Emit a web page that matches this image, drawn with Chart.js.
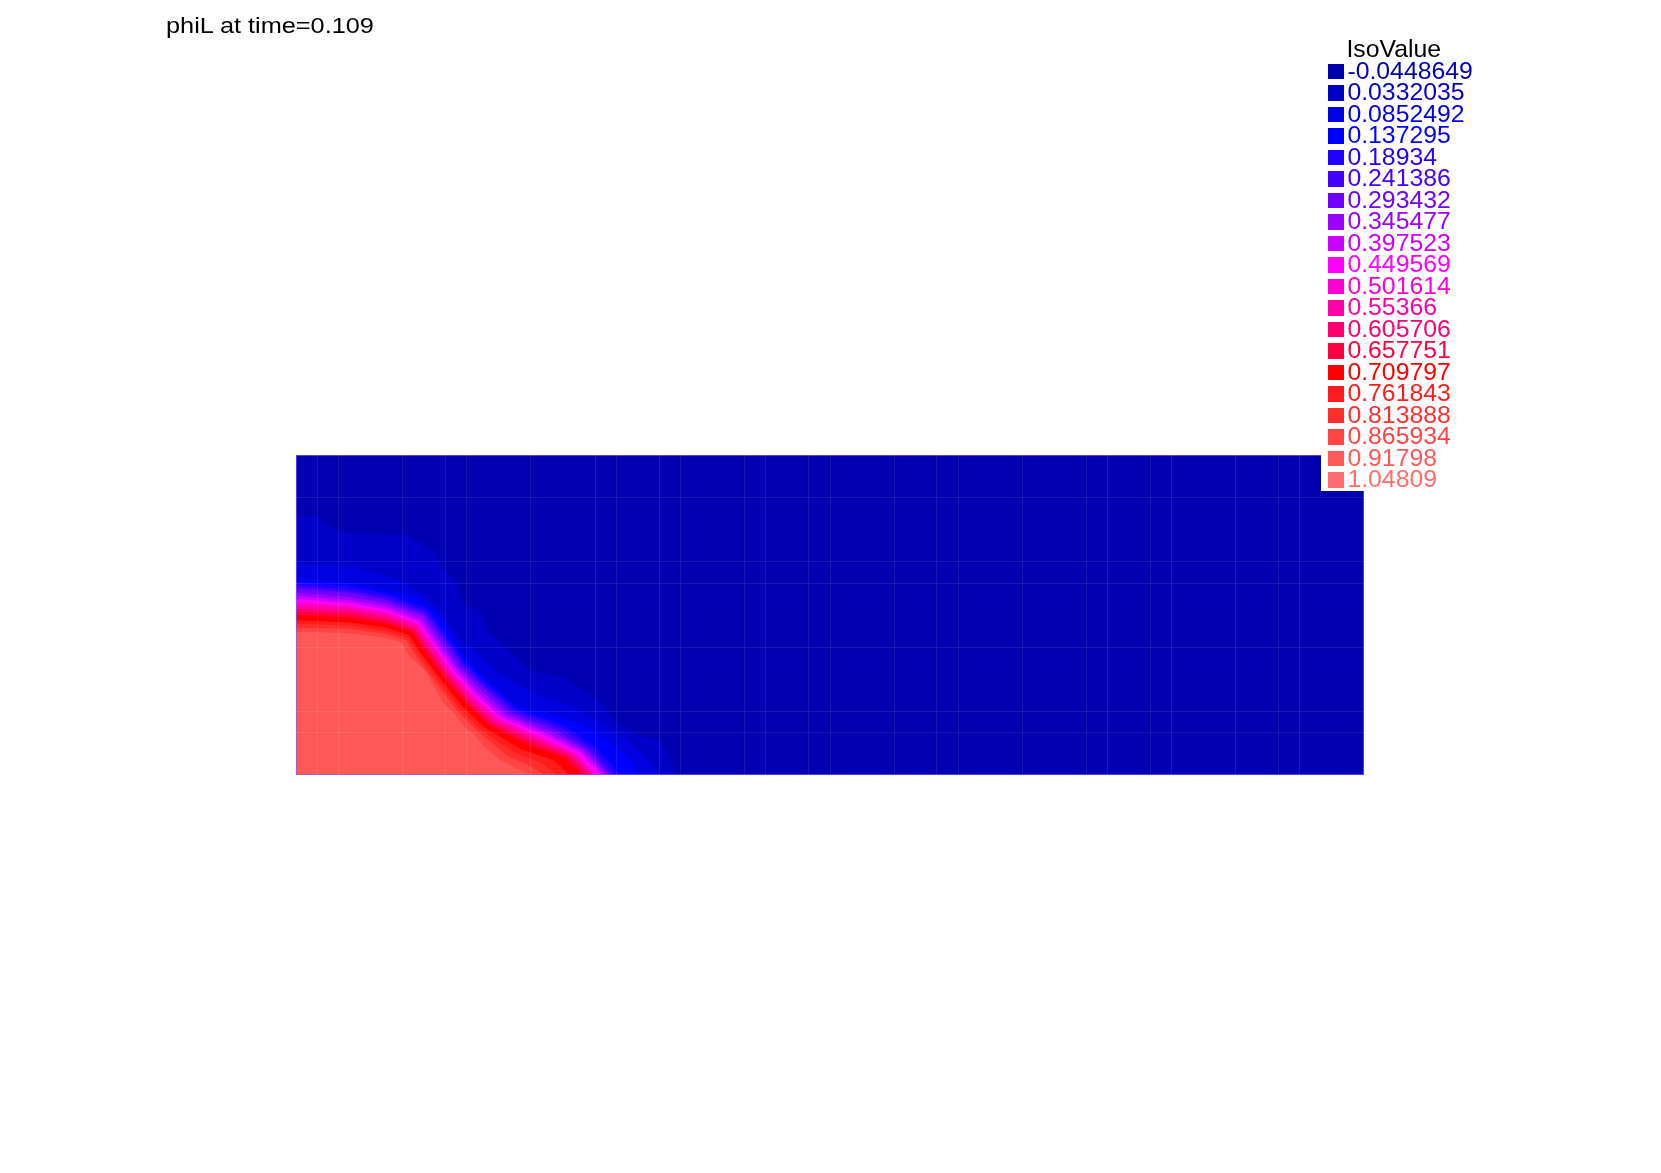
<!DOCTYPE html>
<html>
<head>
<meta charset="utf-8">
<script src="https://cdn.jsdelivr.net/npm/chart.js@4.4.0/dist/chart.umd.min.js"></script>
<style>
  body { margin: 0; background: #fff; font-family: "Liberation Sans", Arial, sans-serif; }
  #wrap { position: relative; width: 1661px; height: 1173px; }
  #title { position: absolute; left: 166px; top: 15px; font-size: 22px; line-height: 1; color: #000;
           transform: scaleX(1.15); transform-origin: left top; white-space: nowrap; }
  #iso { position: absolute; left: 1321px; top: 38.4px; background: #fff; padding: 0 14px 1.5px 7px; }
  #iso .row { position: relative; height: 21.49px; font-size: 24.8px; line-height: 21.49px; white-space: nowrap; }
  #iso .sw { position: absolute; left: 0; top: 4.1px; width: 15.5px; height: 15.5px; }
  #iso .tx { padding-left: 19.4px; }
  #iso .head { padding-left: 18.4px; color: #000; }
</style>
</head>
<body>
<div id="wrap">
  <canvas id="plot" width="1661" height="1173"></canvas>
  <div id="title">phiL at time=0.109</div>
  <div id="iso"></div>
</div>
<script>
var isoValues = ['-0.0448649', '0.0332035', '0.0852492', '0.137295', '0.18934', '0.241386', '0.293432',
  '0.345477', '0.397523', '0.449569', '0.501614', '0.55366', '0.605706', '0.657751', '0.709797',
  '0.761843', '0.813888', '0.865934', '0.91798', '1.04809'];
var isoColors = ['#0000b0', '#0000c8', '#0000e0', '#0000ff', '#2200ff', '#4600ff', '#7000ff',
  '#9c00ff', '#cc00ff', '#ff00ff', '#ff00d4', '#ff00a8', '#ff0070', '#ff0040', '#ff0000',
  '#ff1c1c', '#ff2e2e', '#ff4444', '#ff5858', '#ff6c6c'];

// mesh lines seen through the colours
var meshX = [0.2, 0.4, 1.0, 1.4, 1.6, 2.2, 2.8, 3.0, 3.4, 3.6, 4.2, 4.4, 4.8, 5.0, 5.6, 6.0, 6.2,
  6.8, 7.4, 7.6, 8.0, 8.2, 8.8, 9.2, 9.4];
var meshY = [0.4, 0.6, 1.2, 1.8, 2.0, 2.6];

// outer edge of each iso band, [x, y], domain 10 x 3
var boundary2 = [[0,2.43],[0.2,2.42],[0.33,2.31],[0.48,2.27],[0.82,2.25],[1.04,2.25],[1.16,2.17],[1.30,2.09],
  [1.38,1.92],[1.47,1.86],[1.58,1.58],[1.72,1.55],[1.80,1.36],[1.97,1.19],[2.19,0.98],[2.51,0.91],
  [2.87,0.67],[3.01,0.48],[3.19,0.38],[3.38,0.34],[3.47,0.23],[3.56,0]];
var boundary3 = [[0,1.98],[0.48,1.95],[0.79,1.89],[1.0,1.80],[1.23,1.67],[1.38,1.52],[1.51,1.30],[1.69,1.14],
  [1.91,0.95],[2.22,0.77],[2.60,0.64],[2.85,0.49],[3.10,0.33],[3.30,0.14],[3.38,0]];
var boundary4 = [[0,1.85],[0.5,1.80],[0.85,1.73],[1.13,1.67],[1.32,1.52],[1.48,1.27],[1.60,1.08],[1.79,0.89],
  [2.04,0.67],[2.35,0.58],[2.66,0.49],[2.91,0.33],[3.13,0.14],[3.22,0]];
var boundary5 = [[0,1.81],[0.5,1.77],[0.85,1.70],[1.23,1.56],[1.40,1.33],[1.58,1.06],[1.82,0.83],[2.07,0.62],[2.52,0.46],[2.81,0.26],[3.04,0]];
var boundary6 = [[0,1.78],[0.5,1.73],[0.85,1.67],[1.22,1.53],[1.38,1.31],[1.56,1.05],[1.80,0.81],[2.04,0.61],[2.48,0.44],[2.77,0.25],[2.99,0]];
var boundary7 = [[0,1.75],[0.5,1.71],[0.85,1.64],[1.20,1.51],[1.36,1.30],[1.54,1.03],[1.78,0.80],[2.01,0.59],[2.44,0.42],[2.74,0.24],[2.95,0]];
var boundary8 = [[0,1.71],[0.5,1.67],[0.85,1.61],[1.19,1.49],[1.33,1.28],[1.52,1.01],[1.75,0.78],[1.98,0.57],[2.41,0.40],[2.71,0.23],[2.92,0]];
var boundary9 = [[0,1.68],[0.5,1.64],[0.85,1.58],[1.17,1.46],[1.31,1.26],[1.50,1.00],[1.72,0.76],[1.95,0.56],[2.38,0.38],[2.69,0.22],[2.89,0]];
var boundary10 = [[0,1.65],[0.5,1.61],[0.85,1.55],[1.15,1.44],[1.29,1.24],[1.48,0.98],[1.70,0.74],[1.92,0.54],[2.34,0.37],[2.66,0.21],[2.86,0]];
var boundary11 = [[0,1.62],[0.5,1.59],[0.85,1.53],[1.14,1.42],[1.28,1.23],[1.46,0.97],[1.68,0.73],[1.90,0.53],[2.31,0.35],[2.63,0.20],[2.82,0]];
var boundary12 = [[0,1.60],[0.5,1.57],[0.85,1.51],[1.13,1.41],[1.26,1.22],[1.45,0.96],[1.66,0.72],[1.88,0.52],[2.29,0.34],[2.60,0.20],[2.79,0]];
var boundary13 = [[0,1.56],[0.5,1.54],[0.85,1.48],[1.12,1.38],[1.24,1.20],[1.43,0.94],[1.64,0.70],[1.85,0.50],[2.26,0.32],[2.58,0.19],[2.76,0]];
var boundary14 = [[0,1.53],[0.5,1.51],[0.85,1.45],[1.10,1.36],[1.22,1.18],[1.41,0.93],[1.62,0.68],[1.83,0.49],[2.22,0.30],[2.54,0.18],[2.72,0]];
var boundary15 = [[0,1.50],[0.5,1.48],[0.85,1.42],[1.09,1.34],[1.20,1.17],[1.39,0.91],[1.60,0.67],[1.80,0.47],[2.19,0.28],[2.51,0.17],[2.68,0]];
var boundary16 = [[0,1.45],[0.5,1.43],[0.85,1.38],[1.06,1.31],[1.17,1.14],[1.36,0.89],[1.56,0.64],[1.76,0.45],[2.11,0.24],[2.41,0.14],[2.56,0]];
var boundary17 = [[0,1.42],[0.5,1.40],[0.85,1.35],[1.05,1.28],[1.15,1.12],[1.34,0.87],[1.53,0.62],[1.73,0.43],[2.04,0.21],[2.30,0.11],[2.44,0]];
var boundary18 = [[0,1.38],[0.5,1.37],[0.85,1.32],[1.03,1.26],[1.13,1.10],[1.32,0.85],[1.51,0.60],[1.70,0.41],[1.98,0.18],[2.20,0.08],[2.32,0]];
var boundary19 = [[0,1.34],[0.16,1.34],[0.48,1.33],[0.73,1.30],[0.91,1.27],[1.0,1.23],[1.04,1.14],[1.10,1.08],
  [1.16,1.02],[1.23,0.95],[1.29,0.83],[1.38,0.67],[1.48,0.58],[1.58,0.45],[1.66,0.39],[1.76,0.27],
  [1.91,0.14],[2.10,0.05],[2.20,0]];

var boundaries = [null, null, boundary2, boundary3, boundary4, boundary5, boundary6, boundary7, boundary8,
  boundary9, boundary10, boundary11, boundary12, boundary13, boundary14, boundary15, boundary16,
  boundary17, boundary18, boundary19];

function toPts(arr) {
  return arr.map(function (p) { return {x: p[0], y: p[1]}; });
}

var datasets = [];
// level 1 covers the whole domain
datasets.push({
  data: [{x: 0, y: 3}, {x: 10, y: 3}],
  fill: 'origin', backgroundColor: isoColors[0], borderWidth: 0, pointRadius: 0, order: 30
});
for (var k = 2; k < boundaries.length; k++) {
  datasets.push({
    data: toPts(boundaries[k]),
    fill: 'origin', backgroundColor: isoColors[k - 1], borderWidth: 0, pointRadius: 0,
    tension: 0, order: 30 - k
  });
}
// domain border
datasets.push({
  data: [{x: 0, y: 0}, {x: 0, y: 3}, {x: 10, y: 3}, {x: 10, y: 0}, {x: 0, y: 0}],
  fill: false, borderColor: 'rgba(130,90,255,0.85)', borderWidth: 1.5, pointRadius: 0, order: 0
});

var meshGrid = {color: 'rgba(255,255,255,0.09)', lineWidth: 1, drawTicks: false, z: 1};

var plot = new Chart(document.getElementById('plot').getContext('2d'), {
  type: 'line',
  data: {datasets: datasets},
  options: {
    responsive: false,
    animation: false,
    layout: {padding: {left: 296, top: 455, right: 297, bottom: 398}},
    plugins: {legend: {display: false}, tooltip: {enabled: false}},
    scales: {
      x: {
        type: 'linear', min: 0, max: 10,
        ticks: {display: false}, grid: meshGrid, border: {display: false},
        afterBuildTicks: function (axis) { axis.ticks = meshX.map(function (v) { return {value: v}; }); }
      },
      y: {
        type: 'linear', min: 0, max: 3,
        ticks: {display: false}, grid: meshGrid, border: {display: false},
        afterBuildTicks: function (axis) { axis.ticks = meshY.map(function (v) { return {value: v}; }); }
      }
    }
  }
});

// IsoValue legend
var iso = document.getElementById('iso');
var head = document.createElement('div');
head.className = 'row head';
head.textContent = 'IsoValue';
iso.appendChild(head);
isoValues.forEach(function (v, i) {
  var row = document.createElement('div');
  row.className = 'row';
  var sw = document.createElement('span');
  sw.className = 'sw';
  sw.style.background = isoColors[i];
  var tx = document.createElement('span');
  tx.className = 'tx';
  tx.style.color = isoColors[i];
  tx.textContent = v;
  row.appendChild(sw);
  row.appendChild(tx);
  iso.appendChild(row);
});
</script>
</body>
</html>
